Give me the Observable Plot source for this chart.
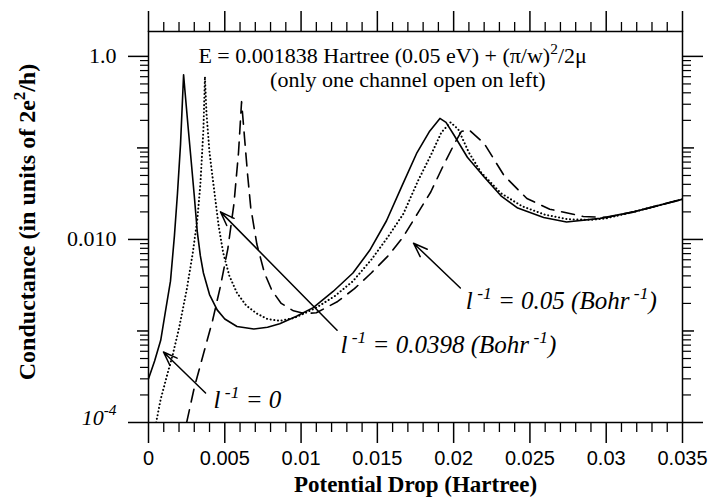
<!DOCTYPE html>
<html><head><meta charset="utf-8">
<script src="https://cdn.jsdelivr.net/npm/d3@7"></script>
<script src="https://cdn.jsdelivr.net/npm/@observablehq/plot@0.6"></script>
<style>
body{margin:0;background:#fff;}
svg{background:#fff;}
</style>
</head><body><div id="chart"></div>
<script>
// ---- data ----
// l^-1 = 0 (solid)
const xSolid = [0,0.0004,0.0008,0.0011,0.00144,0.0017,0.0019,0.0021,0.0023,0.0024,0.0026,0.0028,0.0030,0.0032,0.0034,0.0036,0.0040,0.0045,0.0050,0.0058,0.0069,0.0078,0.0086,0.0097,0.0108,0.0121,0.0134,0.0145,0.0156,0.0166,0.0176,0.0184,0.0191,0.0195,0.0200,0.0209,0.0220,0.0231,0.0242,0.0259,0.0274,0.0296,0.0318,0.0350];
const ySolid = [3.0e-4,4.7e-4,7.9e-4,1.6e-3,3.5e-3,0.011,0.032,0.11,0.63,0.40,0.166,0.071,0.030,0.012,6.6e-3,4.3e-3,2.5e-3,1.7e-3,1.35e-3,1.12e-3,1.05e-3,1.1e-3,1.2e-3,1.45e-3,1.8e-3,2.7e-3,4.3e-3,7.6e-3,0.016,0.038,0.089,0.15,0.21,0.19,0.14,0.079,0.048,0.030,0.022,0.0174,0.0155,0.017,0.020,0.0275];
// l^-1 = 0.0398 (dotted)
const xDotted = [0.0005,0.0008,0.0012,0.0016,0.0020,0.0025,0.0029,0.0032,0.0034,0.0036,0.0037,0.0038,0.0040,0.0043,0.0046,0.0049,0.0053,0.0058,0.0064,0.0071,0.0078,0.0086,0.0095,0.0102,0.0110,0.0122,0.0134,0.0146,0.0157,0.0167,0.0177,0.0185,0.0192,0.0198,0.0203,0.0210,0.0218,0.0231,0.0245,0.0260,0.0275,0.0290,0.0300,0.0318,0.0350];
const yDotted = [1.0e-4,1.8e-4,3.2e-4,5.6e-4,1.07e-3,2.8e-3,7.1e-3,0.0166,0.040,0.16,0.60,0.24,0.089,0.035,0.014,7.1e-3,4.0e-3,2.6e-3,1.9e-3,1.55e-3,1.35e-3,1.29e-3,1.38e-3,1.55e-3,1.8e-3,2.4e-3,3.5e-3,6.0e-3,0.0107,0.019,0.045,0.083,0.148,0.19,0.16,0.089,0.054,0.032,0.023,0.0186,0.0166,0.0164,0.017,0.020,0.0275];
// l^-1 = 0.05 (dashed)
const xDashed = [0.0025,0.0030,0.0036,0.0042,0.0047,0.0052,0.0056,0.0059,0.0061,0.0063,0.0065,0.0067,0.0071,0.0076,0.0081,0.0087,0.0095,0.0102,0.0110,0.0124,0.0135,0.0146,0.0157,0.0167,0.0177,0.0185,0.0193,0.0200,0.0205,0.0210,0.0220,0.0233,0.0248,0.0263,0.0285,0.0300,0.0318,0.0350];
const yDashed = [1.0e-4,2.4e-4,5.6e-4,1.3e-3,3.0e-3,7.9e-3,0.0245,0.089,0.32,0.126,0.050,0.0224,8.9e-3,4.3e-3,2.75e-3,2.0e-3,1.66e-3,1.55e-3,1.58e-3,2.1e-3,2.9e-3,4.3e-3,6.6e-3,0.0107,0.020,0.033,0.063,0.107,0.151,0.158,0.112,0.050,0.028,0.0214,0.0178,0.0174,0.020,0.0275];

// axis ticks and labels
const xTicks = [0,0.005,0.01,0.015,0.02,0.025,0.03,0.035];
const xTickLabels = ["0","0.005","0.01","0.015","0.02","0.025","0.03","0.035"];
const yTicks = [1e-4,0.01,1];
const yTickLabels = ["10^{-4}","0.010","1.0"];
const yDecades = [1e-3,0.1];

// annotation texts
const titleLines = ["E = 0.001838 Hartree (0.05 eV) + (\u03c0/w)^{2}/2\u03bc","(only one channel open on left)"];
const titleX = [0.0160,0.0170];
const titleY = [1.0,0.55];
const curveLabels = ["l^{ -1} = 0","l^{ -1} = 0.0398 (Bohr^{ -1})","l^{ -1} = 0.05 (Bohr^{ -1})"];
const labelX = [0.00426,0.01258,0.0208];
const labelY = [1.76e-4,7.0e-4,2.1e-3];
const arrowX1 = [0.00374,0.01236,0.02044];
const arrowY1 = [2.1e-4,1.02e-3,2.95e-3];
const arrowX2 = [0.00098,0.00472,0.01737];
const arrowY2 = [5.9e-4,0.020,9.1e-3];
const xTitle = "Potential Drop (Hartree)";
const yTitle = "Conductance (in units of 2e^{2}/h)";

// ---- build tables ----
const toRows = (xs, ys) => xs.map((x,i)=>({x, y: ys[i]}));
const solid = toRows(xSolid,ySolid), dotted = toRows(xDotted,yDotted), dashed = toRows(xDashed,yDashed);
const xMinor = d3.range(0,36).filter(i=>i%5!==0).map(i=>i/1000);
const yMinor = [];
[1e-4,1e-3,1e-2,1e-1,1].forEach(e=>{ for(let k=2;k<=9;k++){ const v=+(k*e).toPrecision(3); if(v<1.87) yMinor.push(v);} });
const xLab = new Map(xTicks.map((d,i)=>[d,xTickLabels[i]]));
const yLab = new Map(yTicks.map((d,i)=>[d,yTickLabels[i]]));
const titles = titleLines.map((t,i)=>({t,x:titleX[i],y:titleY[i]}));
const labels = curveLabels.map((t,i)=>({t,x:labelX[i],y:labelY[i]}));
const arrows = arrowX1.map((d,i)=>({x1:d,y1:arrowY1[i],x2:arrowX2[i],y2:arrowY2[i]}));

const serif = "'Liberation Serif', 'Times New Roman', serif";
const sans = "'Liberation Sans', Arial, sans-serif";

const chart = Plot.plot({
  width: 712, height: 499,
  marginLeft: 148, marginRight: 30, marginTop: 31, marginBottom: 77,
  style: {fontFamily: serif, color: "black", background: "white"},
  x: {domain: [0,0.035]},
  y: {type: "log", domain: [1e-4, 1.87]},
  marks: [
    Plot.frame({stroke: "black", strokeWidth: 1.5}),
    // bottom axis
    Plot.axisX({anchor:"bottom", ticks: xTicks, tickSize: 21, tickPadding: 7, tickFormat: d=>xLab.get(d), fontSize: 20, fontFamily: sans, strokeWidth: 1.5, label: null}),
    Plot.axisX({anchor:"bottom", ticks: xMinor, tickSize: 10, tickFormat: ()=>"", strokeWidth: 1.3, label: null}),
    // top axis
    Plot.axisX({anchor:"top", ticks: xTicks, tickSize: 21, tickFormat: ()=>"", strokeWidth: 1.5, label: null}),
    Plot.axisX({anchor:"top", ticks: xMinor, tickSize: 10, tickFormat: ()=>"", strokeWidth: 1.3, label: null}),
    // left axis
    Plot.axisY({anchor:"left", ticks: yTicks, tickSize: 20, tickPadding: 12, tickFormat: d=>yLab.get(d), fontSize: 22, strokeWidth: 1.5, label: null}),
    Plot.axisY({anchor:"left", ticks: yDecades, tickSize: 11, tickFormat: ()=>"", strokeWidth: 1.5, label: null}),
    Plot.axisY({anchor:"left", ticks: yMinor, tickSize: 8, tickFormat: ()=>"", strokeWidth: 1.2, label: null}),
    // right axis
    Plot.axisY({anchor:"right", ticks: yTicks, tickSize: 20, tickFormat: ()=>"", strokeWidth: 1.5, label: null}),
    Plot.axisY({anchor:"right", ticks: yDecades, tickSize: 11, tickFormat: ()=>"", strokeWidth: 1.5, label: null}),
    Plot.axisY({anchor:"right", ticks: yMinor, tickSize: 8, tickFormat: ()=>"", strokeWidth: 1.2, label: null}),
    // curves
    Plot.line(solid, {x:"x", y:"y", stroke:"black", strokeWidth: 1.6, clip: true}),
    Plot.line(dotted, {x:"x", y:"y", stroke:"black", strokeWidth: 2, strokeDasharray: "0.1,3.6", strokeLinecap: "round", clip: true}),
    Plot.line(dashed, {x:"x", y:"y", stroke:"black", strokeWidth: 1.6, strokeDasharray: "13,8", clip: true}),
    // arrows
    Plot.arrow(arrows, {x1:"x1", y1:"y1", x2:"x2", y2:"y2", stroke:"black", strokeWidth: 1.5, headLength: 15, headAngle: 40}),
    // annotations
    Plot.text(titles, {x:"x", y:"y", text:"t", fontSize: 22, textAnchor:"middle", fill:"black"}),
    Plot.text(labels, {x:"x", y:"y", text:"t", fontSize: 25, fontStyle:"italic", textAnchor:"start", fill:"black"}),
    // axis titles
    Plot.text([xTitle], {frameAnchor:"bottom", dy: 62, textAnchor:"middle", lineAnchor:"middle", text: d=>d, fontSize: 23, fontWeight:"bold", fill:"black"}),
    Plot.text([yTitle], {frameAnchor:"left", dx: -121, dy: -5, rotate: -90, textAnchor:"middle", lineAnchor:"middle", text: d=>d, fontSize: 24, fontWeight:"bold", fill:"black"})
  ]
});

// superscripts: turn ^{...} into raised tspans
function richify(root){
  root.querySelectorAll("text").forEach(t=>{
    const targets = t.querySelectorAll("tspan").length ? Array.from(t.querySelectorAll("tspan")) : [t];
    targets.forEach(n=>{
      const s = n.textContent;
      if (!s.includes("^{")) return;
      if (s.startsWith("10^{")) {
        n.setAttribute("font-style","italic");
        const tr = n.getAttribute("transform") || "";
        n.setAttribute("transform", tr + " translate(0,-5)");
      }
      n.textContent = "";
      const re = /\^\{([^}]*)\}/g; let last = 0, m, raised = false;
      const add = (str, sup)=>{
        const ts = document.createElementNS("http://www.w3.org/2000/svg","tspan");
        ts.textContent = str;
        if (sup){ ts.setAttribute("font-size","70%"); ts.setAttribute("dy","-0.6em"); raised = true; }
        else if (raised){ ts.setAttribute("dy","0.42em"); raised = false; }
        n.appendChild(ts);
      };
      while ((m = re.exec(s))){
        if (m.index > last) add(s.slice(last, m.index), false);
        add(m[1], true);
        last = re.lastIndex;
      }
      if (last < s.length) add(s.slice(last), false);
    });
  });
}
richify(chart);
document.getElementById("chart").appendChild(chart);
</script>
</body></html>
